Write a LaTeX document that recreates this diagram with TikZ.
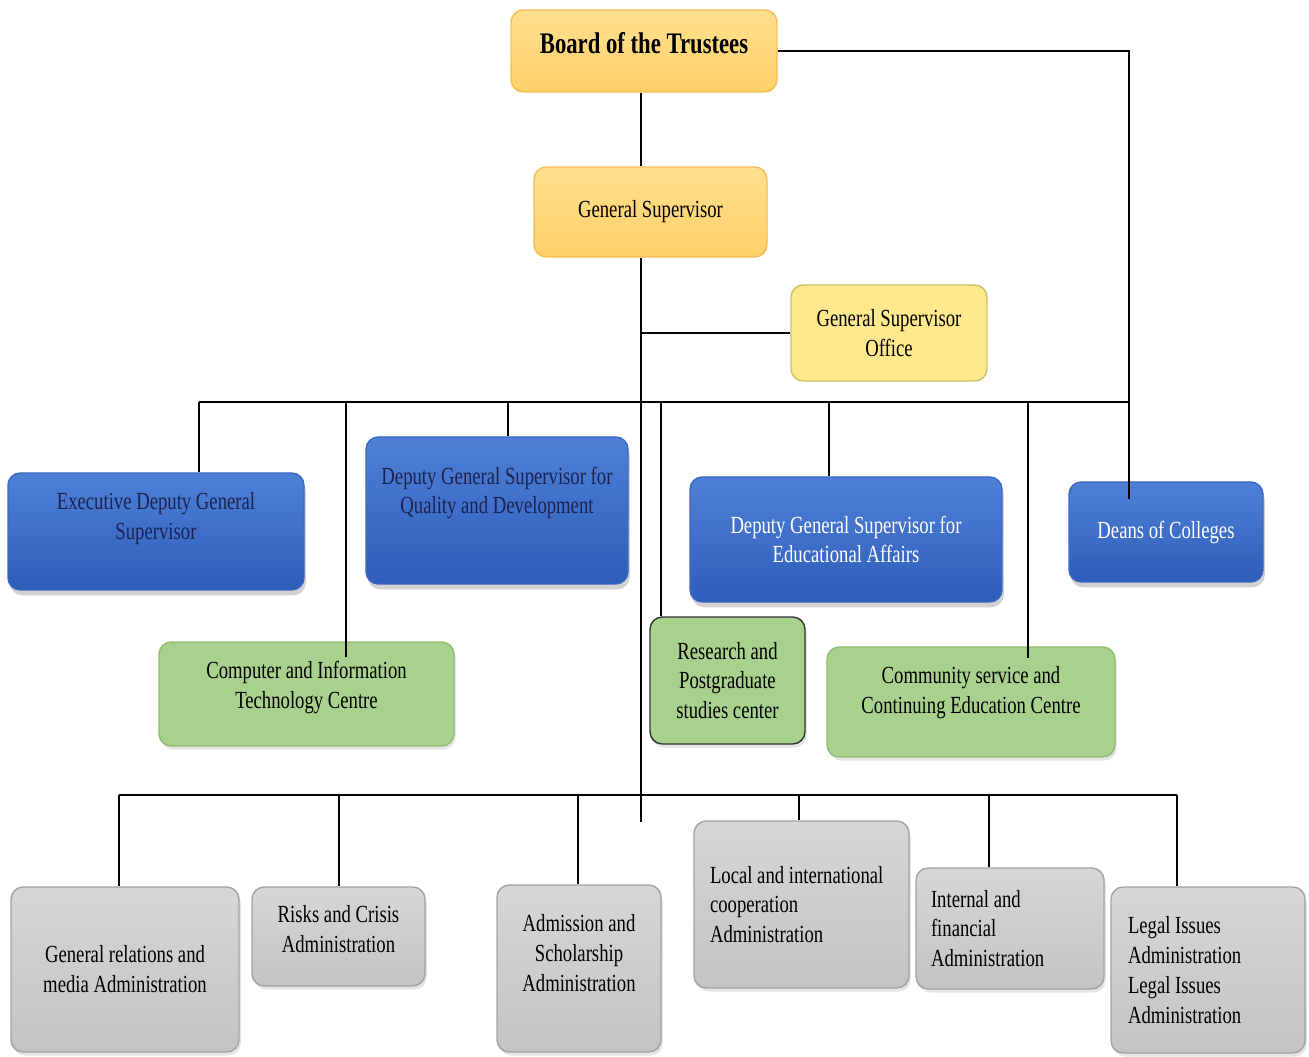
\documentclass[tikz,border=0pt]{standalone}
\usepackage{fontspec}
\setmainfont{Liberation Serif}[FakeStretch=0.76]
\usetikzlibrary{positioning, shadows, backgrounds}

\definecolor{orTop}{HTML}{FFE08F}
\definecolor{orBot}{HTML}{FFD068}
\definecolor{orLine}{HTML}{F2BE55}
\definecolor{offFill}{HTML}{FFE98C}
\definecolor{offLine}{HTML}{C9C463}
\definecolor{blTop}{HTML}{4F80D6}
\definecolor{blBot}{HTML}{2E5DBA}
\definecolor{blLine}{HTML}{3A68C2}
\definecolor{navy}{HTML}{1B2352}
\definecolor{grFill}{HTML}{A9D18E}
\definecolor{grLine}{HTML}{8EBE6E}
\definecolor{gyTop}{HTML}{D6D6D6}
\definecolor{gyBot}{HTML}{C3C3C3}
\definecolor{gyLine}{HTML}{A3A3A3}

\begin{document}
\begin{tikzpicture}[x=0.02cm, y=-0.02cm,
	boxsize/.style 2 args={minimum width=#1*0.02cm, minimum height=#2*0.02cm}]
	\tikzstyle{unit} = [draw, rounded corners=7pt, align=center, inner sep=2pt, line width=0.8pt, font={\fontsize{14}{17}\selectfont}];
	\tikzstyle{head} = [unit, top color=orTop, bottom color=orBot, draw=orLine];
	\tikzstyle{office} = [unit, fill=offFill, draw=offLine];
	\tikzstyle{deputy} = [unit, top color=blTop, bottom color=blBot, draw=blLine, drop shadow={shadow xshift=1pt, shadow yshift=-3pt, opacity=0.35}];
	\tikzstyle{centre} = [unit, fill=grFill, draw=grLine, drop shadow={shadow xshift=1pt, shadow yshift=-2pt, opacity=0.2}];
	\tikzstyle{admin} = [unit, top color=gyTop, bottom color=gyBot, draw=gyLine, drop shadow={shadow xshift=1pt, shadow yshift=-2pt, opacity=0.2}];
	\tikzstyle{conn} = [line width=1.6pt, black];

	\useasboundingbox[fill=white] (0,0) rectangle (1309,1057);

	% top of the chart
	\node[head, boxsize={266}{82}, font={\fontsize{17}{20}\selectfont\bfseries}] (board) at (644,51) {Board of the Trustees\\[-11pt]};
	\node[head, boxsize={233}{90}] (gs) at (650.5,212) {General Supervisor};
	\node[office, boxsize={196}{96}] (office) at (889,333) {General Supervisor\\Office};

	% deputies
	\node[deputy, boxsize={296}{117}, text=navy] (exec) at (156,531.5) {Executive Deputy General\\Supervisor\\[1pt]};
	\node[deputy, boxsize={262}{147}, text=navy] (quality) at (497,510.5) {Deputy General Supervisor for\\Quality and Development\\[6pt]};
	\node[deputy, boxsize={312}{125}, text=white] (edu) at (846,539.5) {Deputy General Supervisor for\\Educational Affairs};
	\node[deputy, boxsize={194}{100}, text=white] (deans) at (1166,532) {Deans of Colleges};

	% centres
	\node[centre, boxsize={295}{104}] (computer) at (306.5,694) {Computer and Information\\Technology Centre\\[-7pt]};
	\node[centre, boxsize={155}{127}, draw=black!80] (research) at (727.5,680.5) {Research and\\Postgraduate\\studies center};
	\node[centre, boxsize={288}{110}] (community) at (971,702) {Community service and\\Continuing Education Centre\\[-3pt]};

	% administrations
	\node[admin, boxsize={228}{165}] (genrel) at (125,969.5) {General relations and\\media Administration};
	\node[admin, boxsize={173}{99}] (risks) at (338.5,936.5) {Risks and Crisis\\Administration\\[-8pt]};
	\node[admin, boxsize={164}{167}] (admission) at (579,968.5) {Admission and\\Scholarship\\Administration\\[1pt]};
	\node[admin, boxsize={215}{167}, align=flush left, text width=183*0.02cm] (local) at (801.5,904.5) {Local and international\\cooperation\\Administration};
	\node[admin, boxsize={188}{121}, align=flush left, text width=158*0.02cm] (internal) at (1010,928.5) {Internal and\\financial\\Administration};
	\node[admin, boxsize={194}{166}, align=flush left, text width=160*0.02cm] (legal) at (1208,970) {Legal Issues\\Administration\\Legal Issues\\Administration};

	% bus lines
	\coordinate (trunk) at (641,0);
	\coordinate (busL) at (199,402);
	\coordinate (busR) at (1129,402);
	\coordinate (lowL) at (119,795);
	\coordinate (lowR) at (1177,795);
	\coordinate (trunkEnd) at (641,822);

	\draw[conn] (board.south -| trunk) -- (gs.north -| trunk);
	\draw[conn] (gs.south -| trunk) -- (trunkEnd);
	\draw[conn] (office.west -| trunk) -- (office.west);
	\draw[conn] (board.east) -- (board.east -| busR) -- (deans.north -| busR) -- ++(0,18);
	\draw[conn] (busL) -- (busR);
	\draw[conn] (lowL) -- (lowR);

	\foreach \xp/\tg/\ex in {199/exec/0,346/computer/16,508/quality/0,661/research/0,829/edu/0,1028/community/12} {
		\draw[conn] (busL -| \xp,0) -- (\tg.north -| \xp,0) -- ++(0,\ex);
	}

	\foreach \xp/\tg in {119/genrel,339/risks,578/admission,799/local,989/internal,1177/legal} {
		\draw[conn] (lowL -| \xp,0) -- (\tg.north -| \xp,0);
	}
\end{tikzpicture}
\end{document}
